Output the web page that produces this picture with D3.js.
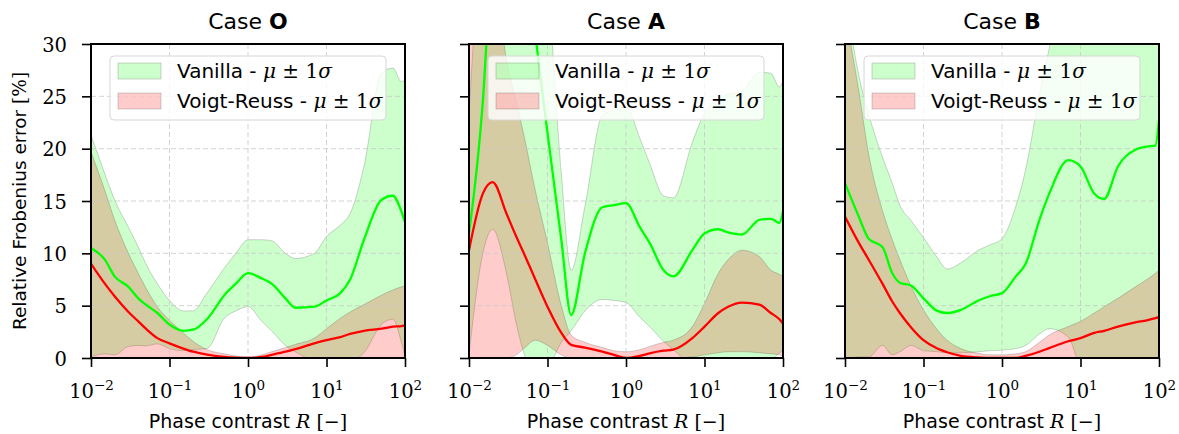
<!DOCTYPE html>
<html>
<head>
<meta charset="utf-8">
<script src="https://cdn.jsdelivr.net/npm/d3@7"></script>
<style>
  body { margin: 0; background: #fff; }
  text { font-family: "DejaVu Sans", sans-serif; fill: #000; }
  .serif { font-family: "DejaVu Serif", serif; }
</style>
</head>
<body>
<div id="wrapper"></div>
<script>
/* global d3 */

// phase contrast R (x positions shared by all curves)
const phaseContrast = [0.01, 0.015, 0.02, 0.03, 0.04, 0.05, 0.07, 0.1, 0.15, 0.2, 0.3, 0.5, 0.7, 1, 1.5, 2, 3, 4, 7, 10, 15, 20, 30, 50, 70, 90, 100];

// Case O
const caseOVanillaUpper = [21.3, 17.6, 15.1, 12.5, 10.6, 9.0, 7.1, 5.5, 4.5, 4.5, 6.2, 8.6, 10.0, 11.3, 11.3, 11.2, 10.0, 9.5, 10.0, 11.6, 12.7, 13.8, 18.3, 27.2, 27.7, 26.4, 26.6];
const caseOVanillaMean = [10.5, 9.4, 7.8, 6.8, 5.7, 5.1, 4.3, 3.2, 2.6, 2.7, 3.7, 6.0, 7.1, 8.1, 7.6, 7.1, 5.7, 4.8, 4.9, 5.5, 6.2, 7.5, 11.3, 15.1, 15.5, 14.0, 13.0];
const caseOVanillaLower = [0.1, 0.4, 0.3, 1.1, 1.2, 1.15, 1.35, 0.9, 0.7, 0.8, 0.9, 3.8, 4.5, 4.9, 3.5, 2.6, 1.2, 0.6, -0.3, -0.5, -0.5, -0.3, 0.5, 3.2, 3.7, 1.5, 0.2];
const caseOVoigtUpper = [19.7, 16.0, 13.2, 10.0, 8.1, 6.7, 4.9, 3.6, 2.4, 1.6, 0.8, 0.4, 0.2, 0.1, 0.3, 0.6, 1.0, 1.3, 1.9, 2.8, 3.8, 4.4, 5.1, 6.0, 6.5, 6.8, 6.9];
const caseOVoigtMean = [9.0, 7.1, 5.9, 4.4, 3.5, 2.8, 1.9, 1.4, 0.9, 0.6, 0.33, 0.1, 0.03, 0, 0.1, 0.3, 0.6, 0.85, 1.4, 1.7, 2.0, 2.3, 2.6, 2.8, 3.0, 3.05, 3.1];
const caseOVoigtLower = [0, 0, 0, 0, 0, 0, 0, 0, 0, 0, 0, 0, 0, 0, 0, 0, 0, 0, 0, 0, 0, 0, 0, 0, 0, 0, 0];

// Case A
const caseAVanillaUpper = [23.4, 45, 60, 60, 55, 50, 44, 36, 17.6, 8.4, 14.5, 23.2, 23.7, 24.0, 21.0, 18.6, 15.5, 15.3, 20.6, 23.4, 24.7, 25.2, 25.5, 27.3, 27.2, 25.9, 26.5];
const caseAVanillaMean = [11.9, 24.5, 40, 48, 48, 42, 31, 21.5, 11.3, 4.1, 10.0, 14.4, 14.6, 14.8, 12.5, 11.0, 8.4, 7.8, 10.3, 11.9, 12.3, 12.0, 11.8, 13.2, 13.3, 12.9, 14.0];
const caseAVanillaLower = [0.3, 10.0, 12.3, 8.1, 3.3, 0.5, -1.5, -1.0, 1.5, 2.6, 4.5, 5.6, 5.5, 5.3, 3.9, 3.0, 1.6, 0.8, -0.5, -0.5, -0.5, -0.5, -0.5, -0.5, -0.3, 0.5, 0.7];
const caseAVoigtUpper = [29.5, 36, 38, 28.5, 24.5, 21.3, 16, 11, 5, 2.2, 1.5, 1.0, 0.7, 0.6, 0.8, 1.1, 1.5, 1.7, 3.0, 5.2, 8.1, 9.4, 10.3, 9.7, 8.4, 8.0, 7.8];
const caseAVoigtMean = [10.3, 15.7, 16.8, 13.8, 11.6, 10.0, 7.5, 4.9, 2.4, 1.25, 1.0, 0.6, 0.3, 0, 0.2, 0.45, 0.7, 0.8, 1.9, 3.0, 4.3, 4.9, 5.3, 5.1, 4.3, 3.7, 3.3];
const caseAVoigtLower = [0, 0, 0, 0, 0.3, 0.9, 1.7, 1.2, 0.3, 0, 0, 0, 0, 0, 0, 0, 0, 0, 0.1, 0.3, 0.5, 0.6, 0.6, 0.5, 0.4, 0.3, 0.2];

// Case B
const caseBVanillaUpper = [35, 27, 23.3, 19.2, 16.7, 14.6, 13.1, 11.5, 9.6, 8.5, 9.1, 10.3, 10.8, 11.4, 14.5, 18.0, 25.2, 29.6, 38, 40, 40, 40, 40, 40, 40, 40, 40];
const caseBVanillaMean = [16.7, 13.5, 11.4, 10.6, 8.1, 7.2, 6.9, 5.7, 4.5, 4.3, 4.6, 5.5, 5.9, 6.2, 7.8, 9.0, 13.2, 15.7, 18.9, 18.3, 15.7, 15.2, 18.3, 19.9, 20.2, 20.3, 22.7];
const caseBVanillaLower = [0, 0.1, 0.1, 1.2, 0.3, 0.6, 1.2, 0.7, 0.6, 0.5, 0.5, 0.6, 0.7, 0.75, 0.9, 1.2, 2.3, 2.8, 2.0, -0.5, -0.5, -0.5, -0.5, -0.5, -0.5, -0.5, -0.5];
const caseBVoigtUpper = [33, 25.5, 19.5, 14.1, 11.3, 9.4, 6.8, 4.6, 2.7, 1.7, 0.9, 0.45, 0.3, 0.3, 0.4, 0.6, 1.5, 2.2, 3.0, 3.5, 4.3, 4.9, 5.7, 6.8, 7.5, 8.1, 8.4];
const caseBVoigtMean = [13.5, 11.0, 9.4, 7.1, 5.4, 4.3, 2.9, 1.7, 0.9, 0.55, 0.2, 0.05, 0, 0, 0, 0.2, 0.6, 0.95, 1.6, 1.9, 2.4, 2.6, 3.0, 3.4, 3.6, 3.8, 3.9];
const caseBVoigtLower = [0, 0, 0, 0, 0, 0, 0, 0, 0, 0, 0, 0, 0, 0, 0, 0, 0, 0, 0, 0, 0, 0, 0, 0, 0, 0, 0];

const caseNames = ["O", "A", "B"];
const xTicks = [0.01, 0.1, 1, 10, 100];
const xTickExponents = ["\u22122", "\u22121", "0", "1", "2"];
const yTicks = [0, 5, 10, 15, 20, 25, 30];
const legendLabels = ["Vanilla - ", "Voigt-Reuss - "];

const panels = [
  {
    vanilla: [caseOVanillaLower, caseOVanillaMean, caseOVanillaUpper],
    voigt: [caseOVoigtLower, caseOVoigtMean, caseOVoigtUpper],
  },
  {
    vanilla: [caseAVanillaLower, caseAVanillaMean, caseAVanillaUpper],
    voigt: [caseAVoigtLower, caseAVoigtMean, caseAVoigtUpper],
  },
  {
    vanilla: [caseBVanillaLower, caseBVanillaMean, caseBVanillaUpper],
    voigt: [caseBVoigtLower, caseBVoigtMean, caseBVoigtUpper],
  },
];

const dimensions = {
  width: 1179,
  height: 434,
  panelLefts: [91, 469, 845],
  panelWidth: 314,
  top: 44,
  boundedHeight: 314,
};

const greenFill = "rgba(0,255,0,0.2)";
const redFill = "rgba(255,0,0,0.2)";

const wrapper = d3
  .select("#wrapper")
  .append("svg")
  .attr("width", dimensions.width)
  .attr("height", dimensions.height);

const defs = wrapper.append("defs");

const xScale = d3
  .scaleLog()
  .domain([0.01, 100])
  .range([0, dimensions.panelWidth]);

const yScale = d3
  .scaleLinear()
  .domain([0, 30])
  .range([dimensions.boundedHeight, 0]);

const xAccessor = (d, i) => xScale(phaseContrast[i]);

const bandGenerator = (lower, upper) =>
  d3
    .area()
    .curve(d3.curveMonotoneX)
    .x(xAccessor)
    .y0((d, i) => yScale(lower[i]))
    .y1((d, i) => yScale(upper[i]))(phaseContrast);

const lineGenerator = (values) =>
  d3
    .line()
    .curve(d3.curveMonotoneX)
    .x(xAccessor)
    .y((d, i) => yScale(values[i]))(phaseContrast);

panels.forEach((panel, p) => {
  const bounds = wrapper
    .append("g")
    .attr("transform", `translate(${dimensions.panelLefts[p]}, ${dimensions.top})`);

  defs
    .append("clipPath")
    .attr("id", `clip-${p}`)
    .append("rect")
    .attr("width", dimensions.panelWidth)
    .attr("height", dimensions.boundedHeight);

  const plot = bounds.append("g").attr("clip-path", `url(#clip-${p})`);

  // bands: green first, red on top
  plot
    .append("path")
    .attr("d", bandGenerator(panel.vanilla[0], panel.vanilla[2]))
    .attr("fill", greenFill)
    .attr("stroke", "rgba(0,0,0,0.22)")
    .attr("stroke-width", 0.8);

  plot
    .append("path")
    .attr("d", bandGenerator(panel.voigt[0], panel.voigt[2]))
    .attr("fill", redFill)
    .attr("stroke", "rgba(0,0,0,0.22)")
    .attr("stroke-width", 0.8);

  // dashed grid
  plot
    .append("g")
    .selectAll("line")
    .data(xTicks)
    .join("line")
    .attr("x1", (d) => xScale(d))
    .attr("x2", (d) => xScale(d))
    .attr("y1", 0)
    .attr("y2", dimensions.boundedHeight)
    .attr("stroke", "#c8c8c8")
    .attr("stroke-width", 0.8)
    .attr("stroke-dasharray", "5,3");

  plot
    .append("g")
    .selectAll("line")
    .data(yTicks)
    .join("line")
    .attr("x1", 0)
    .attr("x2", dimensions.panelWidth)
    .attr("y1", (d) => yScale(d))
    .attr("y2", (d) => yScale(d))
    .attr("stroke", "#c8c8c8")
    .attr("stroke-width", 0.8)
    .attr("stroke-dasharray", "5,3");

  plot
    .append("path")
    .attr("d", lineGenerator(panel.vanilla[1]))
    .attr("fill", "none")
    .attr("stroke", "#00ff00")
    .attr("stroke-width", 2.3);

  plot
    .append("path")
    .attr("d", lineGenerator(panel.voigt[1]))
    .attr("fill", "none")
    .attr("stroke", "#ff0000")
    .attr("stroke-width", 2.3);

  // axes
  const xAxis = bounds
    .append("g")
    .attr("transform", `translate(0, ${dimensions.boundedHeight})`)
    .call(d3.axisBottom(xScale).tickValues(xTicks).tickSize(9).tickSizeOuter(0).tickFormat(""));

  xAxis.select(".domain").remove();
  xAxis.selectAll(".tick line").attr("stroke-width", 1.6);

  const xLabels = xAxis
    .selectAll(".tick")
    .append("text")
    .attr("class", "serif")
    .attr("y", 40)
    .attr("text-anchor", "middle")
    .style("font-size", "19.5px");
  xLabels.append("tspan").text("10");
  xLabels
    .append("tspan")
    .attr("dy", -8.5)
    .style("font-size", "13.5px")
    .text((d, i) => xTickExponents[i]);

  const yAxis = bounds
    .append("g")
    .call(d3.axisLeft(yScale).tickValues(yTicks).tickSize(9).tickSizeOuter(0).tickFormat(""));

  yAxis.select(".domain").remove();
  yAxis.selectAll(".tick line").attr("stroke-width", 1.6);

  if (p === 0) {
    yAxis
      .selectAll(".tick")
      .append("text")
      .attr("class", "serif")
      .attr("x", -24)
      .attr("dy", "0.36em")
      .attr("text-anchor", "end")
      .style("font-size", "19.5px")
      .text((d) => d);
  }

  // spines
  bounds
    .append("rect")
    .attr("width", dimensions.panelWidth)
    .attr("height", dimensions.boundedHeight)
    .attr("fill", "none")
    .attr("stroke", "#000")
    .attr("stroke-width", 2);

  // title
  const title = bounds
    .append("text")
    .attr("x", dimensions.panelWidth / 2)
    .attr("y", -15)
    .attr("text-anchor", "middle")
    .style("font-size", "22px");
  title.append("tspan").text("Case ");
  title.append("tspan").style("font-weight", "bold").text(caseNames[p]);

  // x label
  const xLabel = bounds
    .append("text")
    .attr("x", dimensions.panelWidth / 2)
    .attr("y", dimensions.boundedHeight + 70)
    .attr("text-anchor", "middle")
    .style("font-size", "19px");
  xLabel.append("tspan").text("Phase contrast ");
  xLabel
    .append("tspan")
    .attr("class", "serif")
    .style("font-style", "italic")
    .text("R");
  xLabel.append("tspan").attr("class", "serif").text(" [\u2212]");

  // legend
  const legend = bounds.append("g").attr("transform", "translate(19, 12)");
  legend
    .append("rect")
    .attr("width", 276)
    .attr("height", 64)
    .attr("rx", 4)
    .attr("fill", "rgba(255,255,255,0.8)")
    .attr("stroke", "#d6d6d6")
    .attr("stroke-width", 1);

  const legendItems = legend
    .selectAll(".item")
    .data(legendLabels)
    .join("g")
    .attr("class", "item")
    .attr("transform", (d, i) => `translate(8, ${7 + i * 30})`);

  legendItems
    .append("rect")
    .attr("width", 43)
    .attr("height", 16)
    .attr("fill", (d, i) => (i === 0 ? greenFill : redFill))
    .attr("stroke", "rgba(0,0,0,0.22)")
    .attr("stroke-width", 0.8);

  const legendText = legendItems
    .append("text")
    .attr("x", 59)
    .attr("y", 15)
    .style("font-size", "20px");
  legendText.append("tspan").text((d) => d);
  legendText
    .append("tspan")
    .attr("class", "serif")
    .style("font-style", "italic")
    .text("\u03bc");
  legendText.append("tspan").attr("class", "serif").text(" \u00b1 1");
  legendText
    .append("tspan")
    .attr("class", "serif")
    .style("font-style", "italic")
    .text("\u03c3");
});

// y label
const yLabel = wrapper
  .append("text")
  .attr("transform", `translate(26, ${dimensions.top + dimensions.boundedHeight / 2}) rotate(-90)`)
  .attr("text-anchor", "middle")
  .style("font-size", "18.5px");
yLabel.append("tspan").text("Relative Frobenius error ");
yLabel.append("tspan").attr("class", "serif").text("[%]");
</script>
</body>
</html>
